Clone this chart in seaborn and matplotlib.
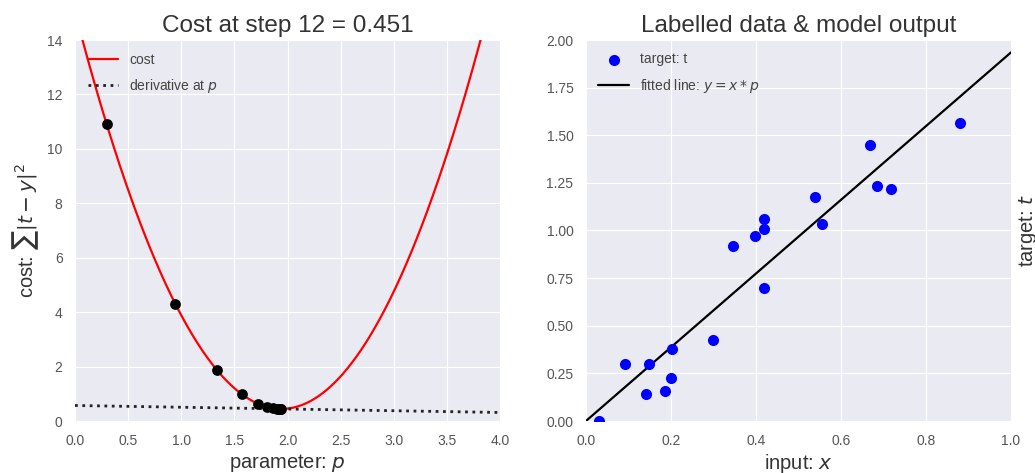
import numpy as np
import pandas as pd
import matplotlib
matplotlib.use("Agg")
import matplotlib.pyplot as plt
import seaborn as sns

# ---- data ----
x_input = [0.030, 0.092, 0.148, 0.141, 0.185, 0.200, 0.202, 0.300, 0.345, 0.397,
           0.418, 0.420, 0.418, 0.538, 0.556, 0.669, 0.685, 0.718, 0.880]
t_target = [0.000, 0.300, 0.300, 0.140, 0.155, 0.225, 0.380, 0.425, 0.920, 0.970,
            1.060, 1.010, 0.700, 1.175, 1.035, 1.450, 1.235, 1.220, 1.565]
# parameter values visited by gradient descent (steps 0..12)
p_steps = [0.297, 0.944, 1.336, 1.57, 1.72, 1.81, 1.865, 1.90, 1.915, 1.925, 1.93, 1.933, 1.935]
step_label = 12
cost_label = 0.451

x_arr = np.array(x_input)
t_arr = np.array(t_target)


def cost(p):
    p = np.atleast_1d(p)
    return ((t_arr[None, :] - x_arr[None, :] * p[:, None]) ** 2).sum(axis=1)


def dcost(p):
    return float((2 * x_arr * (x_arr * p - t_arr)).sum())


sns.set_style("darkgrid")
plt.rcParams["font.family"] = ["Liberation Sans", "DejaVu Sans"]
plt.rcParams["mathtext.fontset"] = "dejavusans"

fig, (ax1, ax2) = plt.subplots(1, 2, figsize=(10.35, 4.73), dpi=100)
fig.subplots_adjust(left=75 / 1035, right=1011 / 1035, bottom=52 / 473, top=433 / 473, wspace=0.202)

tick_col = "#555555"
lab_col = "#333333"

# ---- left: cost curve ----
p_grid = np.linspace(0, 4, 400)
df_cost = pd.DataFrame({"p": p_grid, "cost": cost(p_grid)})
sns.lineplot(data=df_cost, x="p", y="cost", ax=ax1, color="red", lw=1.6, label="cost")

p_cur = p_steps[-1]
c_cur = cost(p_cur)[0]
slope = dcost(p_cur)
df_der = pd.DataFrame({"p": [0.0, 4.0], "y": [c_cur + slope * (0 - p_cur), c_cur + slope * (4 - p_cur)]})
sns.lineplot(data=df_der, x="p", y="y", ax=ax1, color="#222222", lw=2, linestyle=":",
             label="derivative at $p$")

df_steps = pd.DataFrame({"p": p_steps, "cost": cost(np.array(p_steps))})
sns.scatterplot(data=df_steps, x="p", y="cost", ax=ax1, color="black", s=60,
                edgecolor="black", linewidth=0, zorder=5)

ax1.set_xlim(0, 4)
ax1.set_ylim(0, 14)
ax1.set_xticks(np.arange(0, 4.01, 0.5))
ax1.set_yticks(np.arange(0, 14.1, 2))
ax1.set_xlabel("parameter: $p$", fontsize=14.5, color=lab_col, labelpad=3)
ax1.set_ylabel("cost: $\\sum|t-y|^2$", fontsize=14.5, color=lab_col, labelpad=4)
ax1.set_title(f"Cost at step {step_label} = {cost_label:.3f}", fontsize=17.5, color=lab_col, pad=6)
leg1 = ax1.legend(loc="upper left", frameon=False, fontsize=10, handlelength=2.2,
                  labelspacing=0.75)
for txt in leg1.get_texts():
    txt.set_color("#444444")

# ---- right: data and fitted line ----
df_data = pd.DataFrame({"x": x_input, "t": t_target})
sns.scatterplot(data=df_data, x="x", y="t", ax=ax2, color="blue", s=64, linewidth=0,
                label="target: t", zorder=4)
df_fit = pd.DataFrame({"x": [0.0, 1.0], "y": [0.0, p_cur]})
sns.lineplot(data=df_fit, x="x", y="y", ax=ax2, color="black", lw=1.6,
             label="fitted line: $y = x * p$")
ax2.set_xlim(0, 1)
ax2.set_ylim(0, 2)
ax2.set_xticks(np.arange(0, 1.01, 0.2))
ax2.set_yticks(np.arange(0, 2.01, 0.25))
ax2.set_xlabel("input: $x$", fontsize=14.5, color=lab_col, labelpad=3)
ax2.set_ylabel("target: $t$", fontsize=14.5, color=lab_col)
ax2.yaxis.set_label_position("right")
ax2.set_title("Labelled data & model output", fontsize=17.5, color=lab_col, pad=6)
leg2 = ax2.legend(loc="upper left", frameon=False, fontsize=10, handlelength=2.2,
                  labelspacing=0.75)
for txt in leg2.get_texts():
    txt.set_color("#444444")

for ax in (ax1, ax2):
    ax.tick_params(axis="both", labelsize=10, colors=tick_col, length=0, pad=9)
    for s in ax.spines.values():
        s.set_visible(False)

fig.savefig("out.png", dpi=100)
